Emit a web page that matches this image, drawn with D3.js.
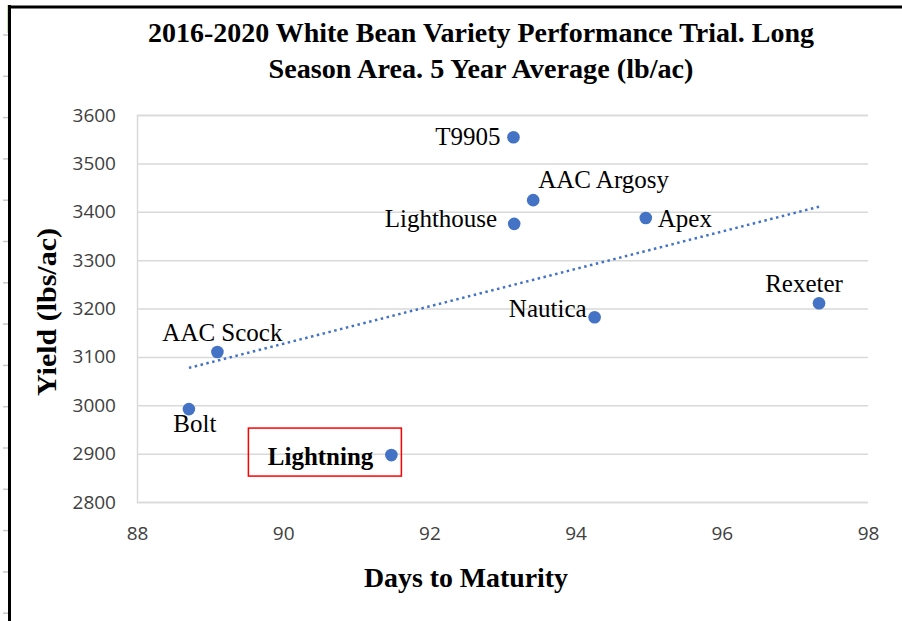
<!DOCTYPE html>
<html>
<head>
<meta charset="utf-8">
<script src="https://cdn.jsdelivr.net/npm/d3@7"></script>
<style>
  body { margin: 0; background: #fff; }
  svg { display: block; }
</style>
</head>
<body>
<svg id="chart"></svg>
<script>
// data
var varieties = ["T9905", "AAC Argosy", "Lighthouse", "Apex", "Rexeter", "Nautica", "AAC Scock", "Bolt", "Lightning"];
var days = [93.15, 93.42, 93.16, 94.96, 97.33, 94.26, 89.10, 88.71, 91.48];
var yields = [3554, 3424, 3375, 3387, 3211, 3182, 3110, 2992, 2897];
var xTicks = [88, 90, 92, 94, 96, 98];
var yTicks = [2800, 2900, 3000, 3100, 3200, 3300, 3400, 3500, 3600];
var highlighted = "Lightning";

var W = 902, H = 621;
var margin = { top: 115, right: 34, bottom: 119, left: 137 };
var width = W - margin.left - margin.right,
   height = H - margin.top - margin.bottom;

var svg = d3.select("svg#chart").attr("width", W).attr("height", H);

// frame of the sheet (black edges, row marks)
svg.append("rect").attr("x", 7).attr("y", 5).attr("width", 2).attr("height", 28).attr("fill", "#c6e0b4");
d3.range(35, H, 41.3).forEach(function (y) {
   svg.append("line").attr("x1", 3).attr("x2", 8).attr("y1", y).attr("y2", y)
      .attr("stroke", "#c8c8c8").attr("stroke-width", 1.5);
});
svg.append("line").attr("x1", 8).attr("x2", W).attr("y1", 7).attr("y2", 7)
   .attr("stroke", "#000").attr("stroke-width", 3);
svg.append("line").attr("x1", 9.5).attr("x2", 9.5).attr("y1", 5).attr("y2", H)
   .attr("stroke", "#000").attr("stroke-width", 3);

var g = svg.append("g").attr("transform", `translate(${margin.left}, ${margin.top})`);

var x = d3.scaleLinear().domain([88, 98]).range([0, width]);
var y = d3.scaleLinear().domain([2800, 3600]).range([height, 0]);

// Y axis + gridlines
var yAxis = g.append("g")
   .call(d3.axisLeft(y).tickValues(yTicks).tickFormat(d3.format("d")).tickSize(-width).tickPadding(21));
yAxis.select(".domain").attr("stroke", "#d9d9d9").attr("stroke-width", 1.5);
yAxis.selectAll(".tick line").attr("stroke", "#d9d9d9").attr("stroke-width", 1.5);
yAxis.selectAll(".tick text")
   .attr("font-family", "'Open Sans', sans-serif").attr("font-size", 19).attr("fill", "#404040");

// X axis (labels only)
var xAxis = g.append("g").attr("transform", `translate(0, ${height})`)
   .call(d3.axisBottom(x).tickValues(xTicks).tickSize(0).tickPadding(25));
xAxis.select(".domain").remove();
xAxis.selectAll(".tick text")
   .attr("font-family", "'Open Sans', sans-serif").attr("font-size", 19).attr("fill", "#404040");

// linear trendline (least squares)
var mx = d3.mean(days), my = d3.mean(yields);
var sxy = d3.sum(days, function (d, i) { return (d - mx) * (yields[i] - my); });
var sxx = d3.sum(days, function (d) { return (d - mx) * (d - mx); });
var slope = sxy / sxx, icpt = my - slope * mx;
var ext = d3.extent(days);
g.append("path")
   .datum(ext)
   .attr("fill", "none")
   .attr("stroke", "#4472c4")
   .attr("stroke-width", 2.5)
   .attr("stroke-dasharray", "2.5,3.5")
   .attr("d", d3.line()
      .x(function (d) { return x(d); })
      .y(function (d) { return y(icpt + slope * d); }));

// points
var pts = varieties.map(function (v, i) { return { name: v, d: days[i], y: yields[i] }; });
g.selectAll("circle.pt").data(pts).enter().append("circle")
   .attr("class", "pt")
   .attr("cx", function (d) { return x(d.d); })
   .attr("cy", function (d) { return y(d.y); })
   .attr("r", 6.3)
   .attr("fill", "#4472c4");

// label placement like the original (offset from the point)
var labelPlace = {
   "T9905": [-13, 8, "end"],
   "AAC Argosy": [5, -12, "start"],
   "Lighthouse": [-17, 3, "end"],
   "Apex": [12, 9, "start"],
   "Rexeter": [-15, -11, "middle"],
   "Nautica": [-8, 0, "end"],
   "AAC Scock": [5, -11, "middle"],
   "Bolt": [6, 23, "middle"],
   "Lightning": [-18, 10, "end"]
};
g.selectAll("text.lbl").data(pts).enter().append("text")
   .attr("class", "lbl")
   .attr("x", function (d) { return x(d.d) + labelPlace[d.name][0]; })
   .attr("y", function (d) { return y(d.y) + labelPlace[d.name][1]; })
   .attr("text-anchor", function (d) { return labelPlace[d.name][2]; })
   .attr("font-family", "'Liberation Serif', 'Times New Roman', serif")
   .attr("font-size", 25)
   .attr("font-weight", function (d) { return d.name === highlighted ? "bold" : "normal"; })
   .attr("fill", "#000")
   .text(function (d) { return d.name; });

// red box round the highlighted variety
var hl = pts.filter(function (d) { return d.name === highlighted; })[0];
g.append("rect")
   .attr("x", x(hl.d) - 143).attr("y", y(hl.y) - 27)
   .attr("width", 153).attr("height", 48)
   .attr("fill", "none").attr("stroke", "#ff0000").attr("stroke-width", 1.5);

// titles
var serif = "'Liberation Serif', 'Times New Roman', serif";
svg.append("text").attr("x", 481).attr("y", 42).attr("text-anchor", "middle")
   .attr("font-family", serif).attr("font-weight", "bold").attr("font-size", 27)
   .attr("textLength", 666).attr("lengthAdjust", "spacingAndGlyphs")
   .text("2016-2020 White Bean Variety Performance Trial. Long");
svg.append("text").attr("x", 481).attr("y", 78).attr("text-anchor", "middle")
   .attr("font-family", serif).attr("font-weight", "bold").attr("font-size", 27)
   .attr("textLength", 425).attr("lengthAdjust", "spacingAndGlyphs")
   .text("Season Area. 5 Year Average (lb/ac)");

svg.append("text").attr("x", 466).attr("y", 587).attr("text-anchor", "middle")
   .attr("font-family", serif).attr("font-weight", "bold").attr("font-size", 28)
   .attr("textLength", 204).attr("lengthAdjust", "spacingAndGlyphs")
   .text("Days to Maturity");

svg.append("text").attr("transform", "translate(56, 312) rotate(-90)").attr("text-anchor", "middle")
   .attr("font-family", serif).attr("font-weight", "bold").attr("font-size", 28)
   .attr("textLength", 168).attr("lengthAdjust", "spacingAndGlyphs")
   .text("Yield (lbs/ac)");
</script>
</body>
</html>
